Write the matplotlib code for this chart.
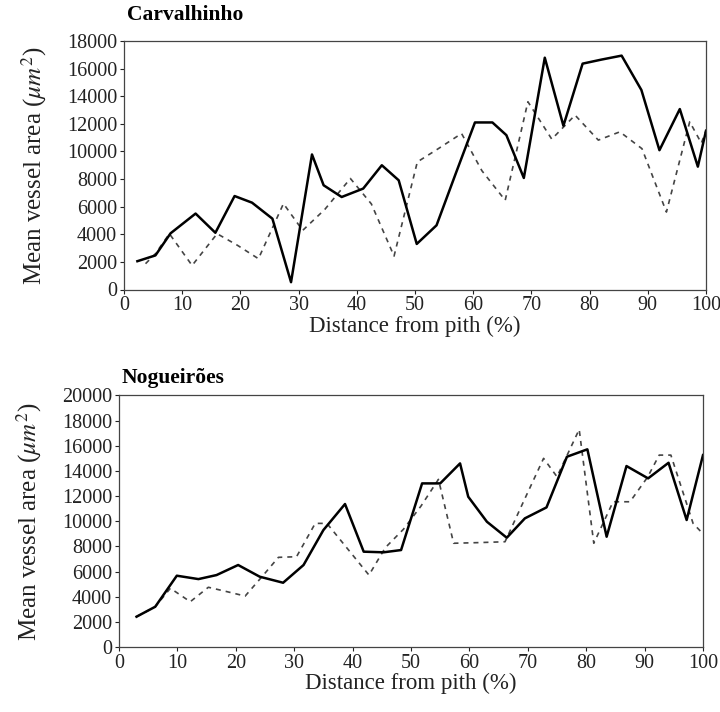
import matplotlib
matplotlib.use("Agg")
import matplotlib.pyplot as plt

# ---- Carvalhinho ----
carv_solid_x = [2.3, 5.4, 8.0, 12.3, 15.7, 19.0, 22.0, 25.5, 28.7, 32.3, 34.3, 37.4, 41.1, 44.3,
                47.2, 50.3, 53.7, 57.0, 60.3, 63.3, 65.7, 68.7, 72.3, 75.5, 78.8, 82.0, 85.5,
                88.9, 92.0, 95.5, 98.6, 100.0]
carv_solid_y = [2050, 2470, 4070, 5500, 4110, 6770, 6290, 5130, 530, 9780, 7550, 6700, 7310, 9000,
                7910, 3300, 4650, 8400, 12100, 12100, 11180, 8080, 16790, 11860, 16360, 16650, 16940,
                14450, 10090, 13070, 8900, 11500]
carv_dash_x = [3.7, 5.4, 7.8, 11.7, 16.0, 19.5, 23.1, 27.4, 30.7, 34.5, 38.9, 42.5, 46.4, 50.4,
               54.0, 58.0, 61.5, 65.5, 69.4, 73.5, 77.5, 81.5, 85.2, 89.0, 93.2, 97.2, 99.2, 100.0]
carv_dash_y = [1870, 2590, 4040, 1740, 4040, 3200, 2230, 6220, 4280, 5800, 8040, 6200, 2420, 9240,
               10200, 11300, 8600, 6460, 13600, 10890, 12630, 10820, 11420, 10200, 5610, 12150,
               10600, 11500]

# ---- Nogueirões ----
nog_solid_x = [3.0, 6.2, 9.9, 13.6, 16.7, 20.4, 24.1, 28.1, 31.6, 35.0, 38.7, 41.9, 45.3, 48.3,
               51.9, 55.0, 58.4, 59.8, 63.0, 66.4, 69.5, 73.2, 76.7, 80.2, 83.5, 86.9, 90.6,
               94.1, 97.2, 100.0]
nog_solid_y = [2410, 3200, 5670, 5400, 5720, 6520, 5590, 5110, 6520, 9300, 11370, 7580, 7530, 7710,
               13010, 13010, 14600, 11950, 9960, 8690, 10230, 11100, 15130, 15720, 8770, 14390,
               13410, 14650, 10100, 15260]
nog_dash_x = [3.0, 6.2, 8.8, 12.2, 15.3, 18.5, 21.6, 24.5, 27.3, 30.4, 33.6, 35.6, 42.8, 45.6,
              48.7, 51.7, 54.7, 57.3, 61.5, 66.1, 69.5, 72.7, 75.0, 78.8, 81.3, 84.6, 87.5,
              90.5, 92.5, 94.5, 98.3, 100.0]
nog_dash_y = [2410, 3200, 4670, 3600, 4750, 4400, 4050, 5600, 7130, 7180, 9830, 9830, 5720, 7900,
              9360, 11200, 13330, 8250, 8300, 8370, 11800, 15000, 13540, 17300, 8250, 11550, 11550,
              13500, 15260, 15260, 9830, 9000]

xticks = list(range(0, 101, 10))
carv_yticks = list(range(0, 18001, 2000))
nog_yticks = list(range(0, 20001, 2000))

plt.rcParams['font.family'] = ['Liberation Serif', 'DejaVu Serif']
plt.rcParams['mathtext.fontset'] = 'stix'

fig = plt.figure(figsize=(7.2, 7.12), dpi=100)

ax1 = fig.add_axes([124/720, 1-289.5/712, 582/720, (289.5-41)/712])
ax2 = fig.add_axes([119/720, 1-647/712, 584/720, (647-395.5)/712])

def style(ax, xs, ys, xd, yd, yticks, ymax, title, tpad):
    ax.plot(xd, yd, color='#444444', lw=1.2, linestyle=(0, (3, 3)))
    ax.plot(xs, ys, color='black', lw=1.8)
    ax.set_xlim(0, 100)
    ax.set_ylim(0, ymax)
    ax.set_xticks(xticks)
    ax.set_yticks(yticks)
    ax.tick_params(direction='out', length=3, width=0.8, labelsize=14.5, colors='#222222', pad=2)
    for s in ax.spines.values():
        s.set_linewidth(0.9)
        s.set_color('#444444')
    ax.set_xlabel('Distance from pith (%)', fontsize=16.5, labelpad=0, color='#222222')
    ax.set_ylabel(r'Mean vessel area ($\mu m^2$)', fontsize=18, labelpad=13, color='#222222')
    ax.set_title(title, loc='left', fontsize=15.5, fontweight='bold', pad=tpad, x=0.005)

style(ax1, carv_solid_x, carv_solid_y, carv_dash_x, carv_dash_y, carv_yticks, 18000, 'Carvalhinho', 15)
style(ax2, nog_solid_x, nog_solid_y, nog_dash_x, nog_dash_y, nog_yticks, 20000, 'Nogueirões', 9)

fig.savefig('out.png', dpi=100)
